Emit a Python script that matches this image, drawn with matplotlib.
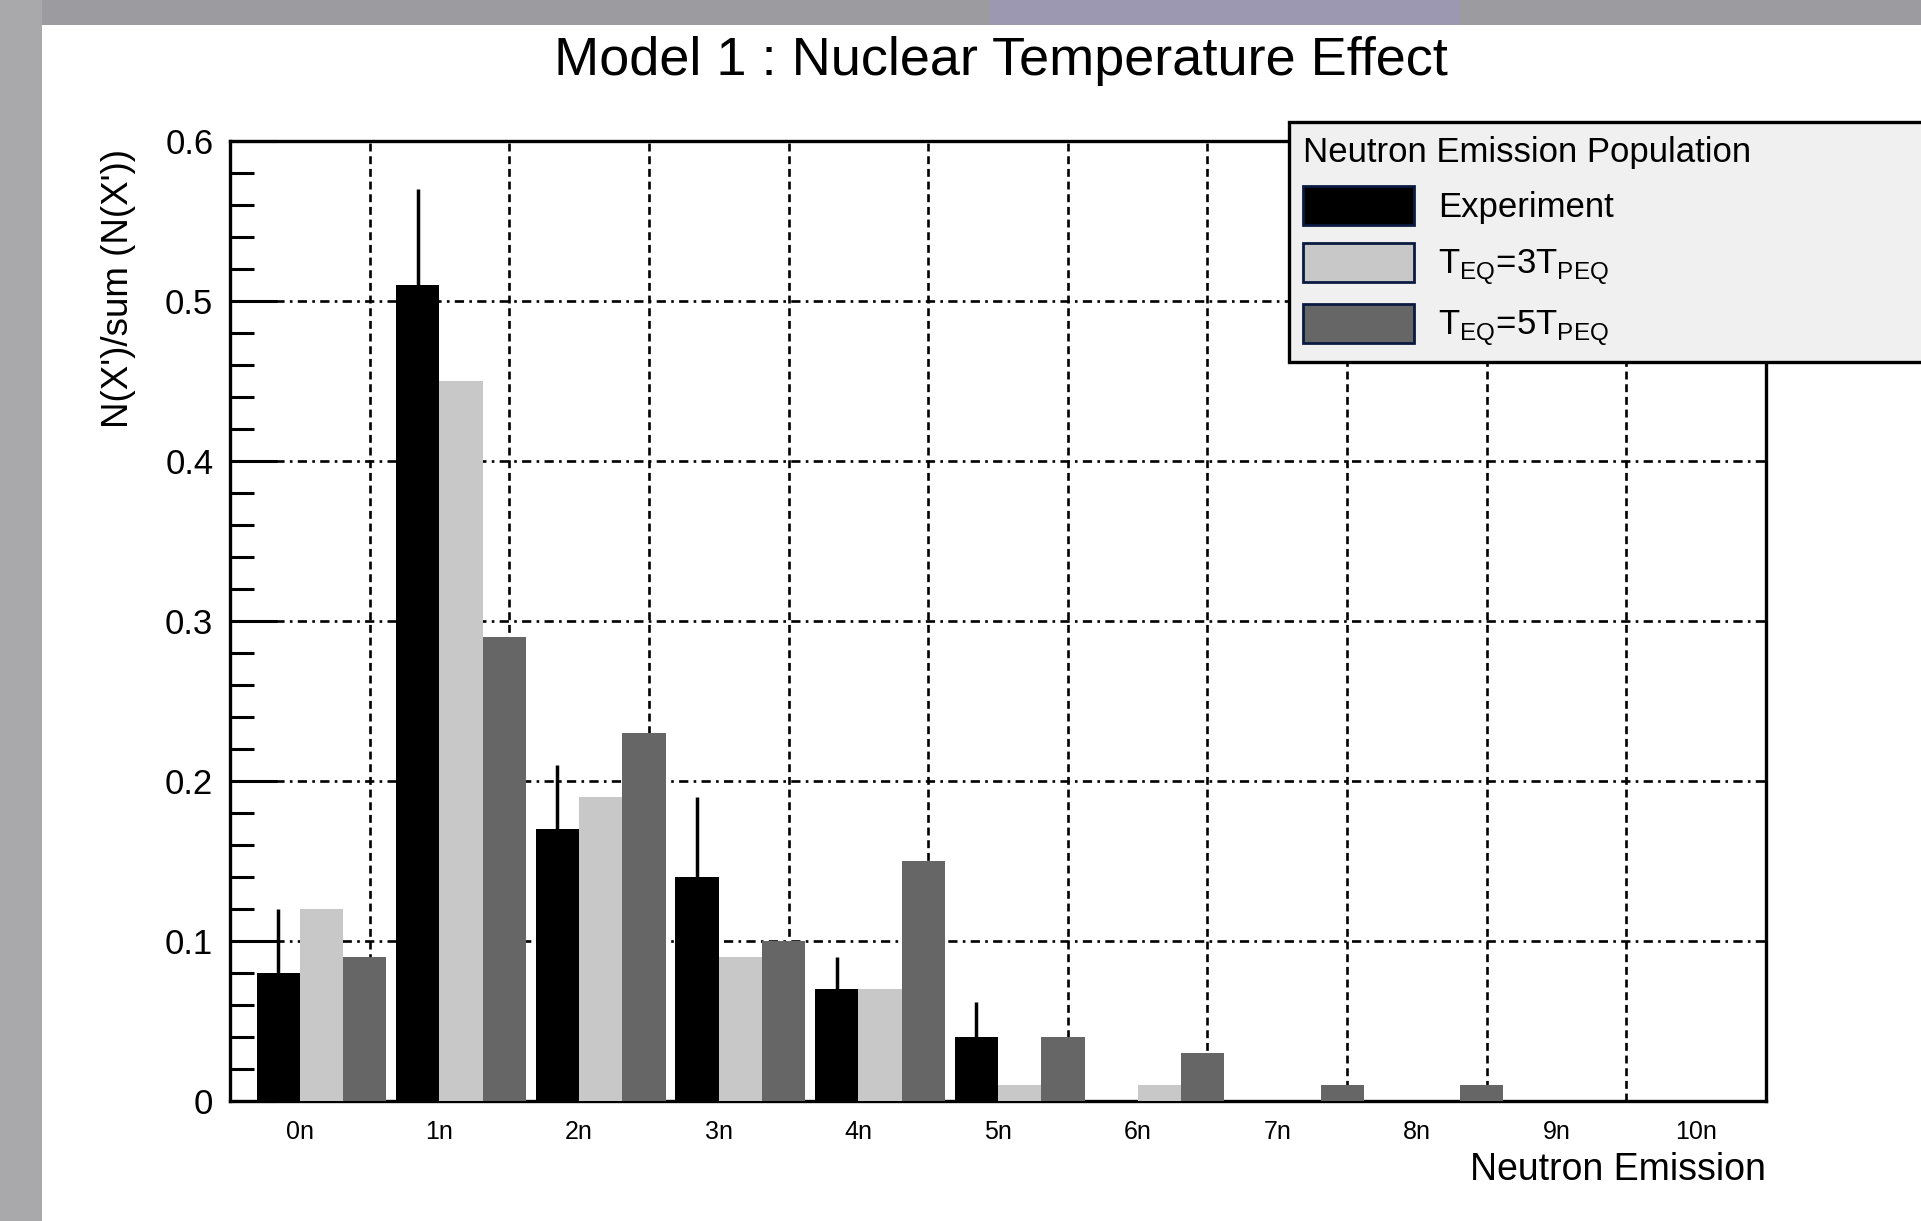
import matplotlib
matplotlib.use("Agg")
import matplotlib.pyplot as plt
import numpy as np
from matplotlib.patches import Rectangle
from matplotlib.ticker import MultipleLocator

plt.rcParams["font.family"] = ["Liberation Sans", "DejaVu Sans"]
plt.rcParams["mathtext.fontset"] = "custom"
plt.rcParams["mathtext.rm"] = "Liberation Sans"

# ---- data ----
categories = ["0n", "1n", "2n", "3n", "4n", "5n", "6n", "7n", "8n", "9n", "10n"]
experiment = [0.08, 0.51, 0.17, 0.14, 0.07, 0.04, 0.0, 0.0, 0.0, 0.0, 0.0]
experiment_err = [0.04, 0.06, 0.04, 0.05, 0.02, 0.022, 0.0, 0.0, 0.0, 0.0, 0.0]
teq_3t = [0.12, 0.45, 0.19, 0.09, 0.07, 0.01, 0.01, 0.0, 0.0, 0.0, 0.0]
teq_5t = [0.09, 0.29, 0.23, 0.10, 0.15, 0.04, 0.03, 0.01, 0.01, 0.0, 0.0]

series = [
    ("Experiment", experiment, "#000000"),
    (r"T$_{\mathrm{EQ}}$=3T$_{\mathrm{PEQ}}$", teq_3t, "#c8c8c8"),
    (r"T$_{\mathrm{EQ}}$=5T$_{\mathrm{PEQ}}$", teq_5t, "#666666"),
]
bar_offsets = [0.19, 0.50, 0.81]
bar_w = 0.31

W, H = 1921, 1221
fig = plt.figure(figsize=(W / 100, H / 100), dpi=100)
fig.patch.set_facecolor("#9c9ca0")
# blurred slide background behind the white panel
for xy, w, h, c in [((990 / W, 1 - 25 / H), 470 / W, 25 / H, "#9d98b2"),
                    ((0, 0), 42 / W, 1, "#a9a9ab"),
                    ((42 / W, 0), 1 - 42 / W, 1 - 25 / H, "white")]:
    fig.patches.append(Rectangle(xy, w, h, transform=fig.transFigure,
                                 facecolor=c, edgecolor="none", zorder=-5))

ax = fig.add_axes([230 / W, 1 - 1101 / H, (1766 - 230) / W, (1101 - 141) / H])
ax.set_facecolor("white")

x = np.arange(len(categories))
handles = []
for (label, vals, color), off in zip(series, bar_offsets):
    b = ax.bar(x + off, vals, width=bar_w, align="edge", color=color, edgecolor="none",
               zorder=3, label=label)
    handles.append(b)
ax.errorbar(x + bar_offsets[0] + bar_w / 2, experiment, yerr=experiment_err, fmt="none",
            ecolor="black", elinewidth=2.5, capsize=0, zorder=4)

ax.set_xlim(0, len(categories))
ax.set_ylim(0, 0.6)
ax.set_xticks(x + 0.5)
ax.set_xticklabels(categories, fontsize=18)
ax.tick_params(axis="x", length=0, pad=14)
ax.xaxis.set_minor_locator(MultipleLocator(1))
ax.tick_params(axis="x", which="minor", length=0)

ax.yaxis.set_minor_locator(MultipleLocator(0.02))
ax.set_yticks([0, 0.1, 0.2, 0.3, 0.4, 0.5, 0.6])
ax.set_yticklabels(["0", "0.1", "0.2", "0.3", "0.4", "0.5", "0.6"], fontsize=25)
ax.tick_params(axis="y", which="major", direction="in", length=34, width=2.2, pad=12)
ax.tick_params(axis="y", which="minor", direction="in", length=17, width=2.2)

ax.grid(axis="y", which="major", color="black", linewidth=1.9, linestyle=(0, (3.5, 2, 1, 2)), zorder=1)
ax.grid(axis="x", which="minor", color="black", linewidth=1.9, linestyle=(0, (3, 1.8)), zorder=1)

for s in ax.spines.values():
    s.set_linewidth(2.4)
    s.set_zorder(2.5)

ax.set_ylabel("N(X')/sum (N(X'))", fontsize=26.5)
ax.yaxis.set_label_coords(-(230 - 118) / (1766 - 230), 1 - (288 - 141) / (1101 - 141))
ax.yaxis.label.set_va("center")
ax.yaxis.label.set_ha("center")

fig.text(1766 / W, 1 - 1180 / H, "Neutron Emission", fontsize=27, ha="right", va="baseline")
fig.text(1001 / W, 1 - 75 / H, "Model 1 : Nuclear Temperature Effect", fontsize=39,
         ha="center", va="baseline")

leg = fig.legend(handles, [s[0] for s in series], title="Neutron Emission Population",
                 loc="upper left", bbox_to_anchor=(1289 / W, 1 - 362 / H, 0.5, (362 - 122) / H),
                 mode="expand", borderaxespad=0, fontsize=25, title_fontsize=25,
                 alignment="left", frameon=True, fancybox=False, facecolor="#f0f0f0",
                 edgecolor="black", framealpha=1, handlelength=3.2, handleheight=1.35,
                 handletextpad=0.7, labelspacing=0.5, borderpad=0.4)
leg.get_frame().set_linewidth(2.4)
for p in leg.get_patches():
    p.set_edgecolor("#0a1a40")
    p.set_linewidth(2)

fig.savefig("out.png", dpi=100)
